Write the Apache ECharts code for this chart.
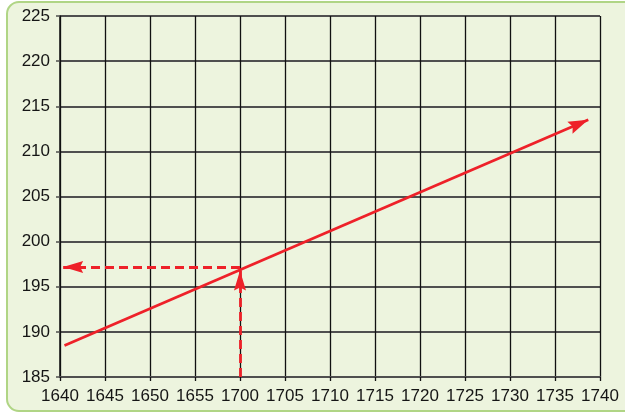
<!DOCTYPE html>
<html>
<head>
<meta charset="utf-8">
<script src="https://cdn.jsdelivr.net/npm/echarts@6/dist/echarts.min.js"></script>
<style>
  html, body { margin: 0; padding: 0; background: #ffffff; }
  #chart { width: 625px; height: 413px; }
</style>
</head>
<body>
<div id="chart"></div>
<script>
// Year labels along the bottom axis (the axis itself runs over label indices 0..12)
const yearLabels = ['1640', '1645', '1650', '1655', '1700', '1705', '1710',
                    '1715', '1720', '1725', '1730', '1735', '1740'];
const yRange = [185, 225];
const yStep = 5;

// Trend line: [label index, value] from start to arrow tip
const trendLine = [[0.1, 188.5], [11.74, 213.5]];
// Reading guides: up from 1700 to the trend line, then left to the value axis
const readUp = [[4, 185], [4, 196.8]];
const readLeft = [[4, 197.2], [0.07, 197.2]];

const RED = '#ee2129';
const ARROW = 'path://M6,0 L12,20 L6,17 L0,20 Z';

// Arrow head drawn so that its tip sits on the line's end point
function arrowLine(points, dashed, size) {
  return [
    { coord: points[0], symbol: 'none' },
    { coord: points[1], symbol: ARROW, symbolSize: size, symbolOffset: [0, size[1] / 2],
      lineStyle: { color: RED, width: 2.8, type: dashed ? [9, 5] : 'solid' } }
  ];
}

const chart = echarts.init(document.getElementById('chart'), null, { renderer: 'canvas' });

chart.setOption({
  animation: false,
  backgroundColor: '#ffffff',
  graphic: [{
    type: 'rect',
    z: -10,
    silent: true,
    shape: { x: 7, y: 2, width: 640, height: 409, r: 12 },
    style: { fill: '#edf4de', stroke: '#b0d585', lineWidth: 2 }
  }],
  grid: { left: 60, right: 25, top: 16, bottom: 36, containLabel: false },
  xAxis: {
    type: 'value',
    min: 0,
    max: yearLabels.length - 1,
    interval: 1,
    axisLine: { show: true, onZero: false, lineStyle: { color: '#4f4f4f', width: 2 } },
    axisTick: { show: true, length: 4, lineStyle: { color: '#111', width: 1.3 } },
    splitLine: { show: true, lineStyle: { color: '#111', width: 1.3 } },
    axisLabel: {
      show: true,
      interval: 0,
      hideOverlap: false,
      margin: 11,
      color: '#151515',
      fontFamily: 'Liberation Sans, Arial, sans-serif',
      fontSize: 17,
      formatter: function (v) { return yearLabels[Math.round(v)]; }
    }
  },
  yAxis: {
    type: 'value',
    min: yRange[0],
    max: yRange[1],
    interval: yStep,
    axisLine: { show: true, onZero: false, lineStyle: { color: '#111', width: 1.5 } },
    axisTick: { show: true, length: 4, lineStyle: { color: '#4f4f4f', width: 1.5 } },
    splitLine: { show: true, lineStyle: { color: '#4f4f4f', width: 2 } },
    axisLabel: {
      margin: 10,
      color: '#151515',
      fontFamily: 'Liberation Sans, Arial, sans-serif',
      fontSize: 17
    }
  },
  series: [{
    type: 'line',
    data: [],
    silent: true,
    markLine: {
      silent: true,
      animation: false,
      label: { show: false },
      emphasis: { disabled: true },
      lineStyle: { color: RED, width: 2.8 },
      itemStyle: { color: RED },
      data: [
        arrowLine(trendLine, false, [13, 20]),
        arrowLine(readUp, true, [12, 20]),
        arrowLine(readLeft, true, [12, 20])
      ]
    }
  }]
});
</script>
</body>
</html>
